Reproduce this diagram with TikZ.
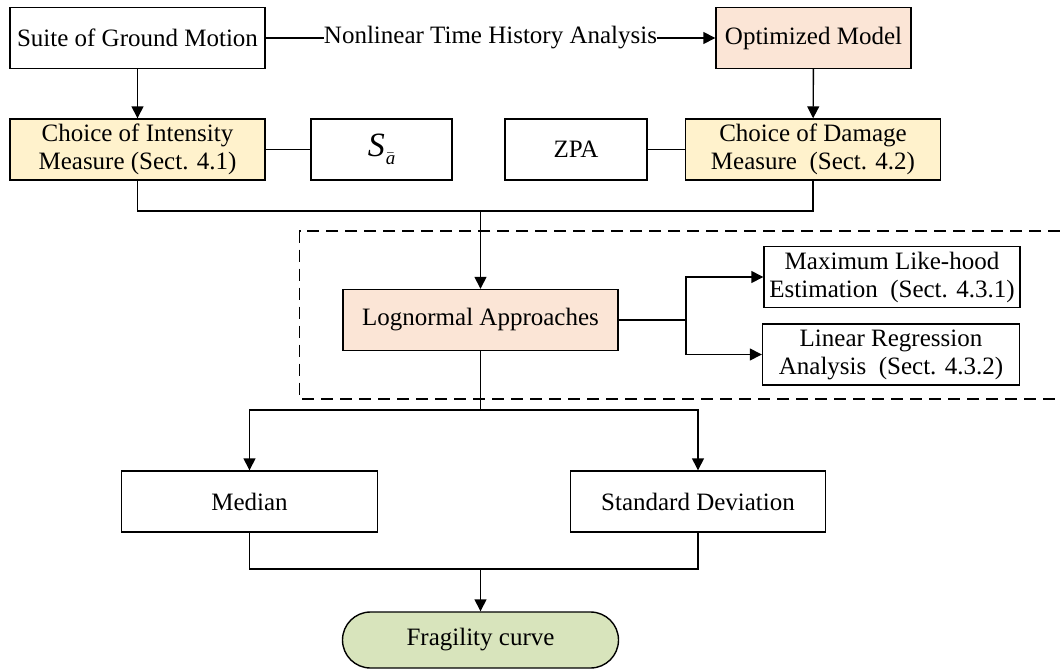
\documentclass[tikz,border=0pt]{standalone}
\usepackage{fontspec}
\setmainfont{Liberation Serif}
\usepackage{xcolor}
\usetikzlibrary{arrows.meta}

\definecolor{boxpink}{HTML}{FBE5D6}
\definecolor{boxyellow}{HTML}{FFF2CC}
\definecolor{boxgreen}{HTML}{D8E4BC}

\begin{document}
\begin{tikzpicture}[x=0.5pt, y=-0.5pt, font=\fontsize{12.5}{14}\selectfont, line width=0.7pt,
  box/.style={draw, inner sep=0pt, minimum height=30.5pt, align=center},
  arr/.style={-{Triangle[length=6pt,width=6pt]}}]
\useasboundingbox (0,0) rectangle (1060,669);

% top row
\node[box, minimum width=127.5pt] (suite) at (137.5,38) {Suite of Ground Motion};
\node[box, fill=boxpink, minimum width=97.5pt] (model) at (813.5,38) {Optimized Model};
\draw[arr] (suite) -- node[fill=white, inner sep=0pt] (nlth) {Nonlinear Time History Analysis} (model);

% measures
\node[box, fill=boxyellow, minimum width=127.5pt] (im) at (137.5,149.5) {Choice of Intensity\\Measure (Sect. 4.1)};
\node[box, minimum width=70.5pt] (sa) at (381.5,149.5) {\fontsize{17}{17}\selectfont\textit{S}\kern0.5pt\raisebox{-4pt}{\fontsize{9.5}{10}\selectfont\itshape $\bar{\mbox{a}}$}};
\node[box, minimum width=71pt] (zpa) at (576,149.5) {ZPA};
\node[box, fill=boxyellow, minimum width=127.5pt] (dm) at (813,149.5) {Choice of Damage\\Measure~~(Sect. 4.2)};
\draw[arr] (suite) -- (im);
\draw[arr] (model) -- (dm);
\draw (im) -- (sa);
\draw (zpa) -- (dm);

% lognormal approaches
\coordinate (top) at (480.5,211);
\node[box, fill=boxpink, minimum width=137.5pt] (logn) at (480.5,320) {Lognormal Approaches};
\node[box, minimum width=128pt] (mle) at (892,277) {Maximum Like-hood\\Estimation~~(Sect. 4.3.1)};
\node[box, minimum width=128.5pt] (lra) at (891,354.5) {Linear Regression\\Analysis~~(Sect. 4.3.2)};
\draw (im) |- (top) -| (dm);
\draw[arr] (top) -- (logn);
\coordinate (br) at (686,320);
\draw (logn) -- (br);
\draw[arr] (br) |- (mle);
\draw[arr] (br) |- (lra);
\draw[dash pattern=on 6pt off 3.5pt] (1060,231) -- (299.5,231) -- (299.5,399) -- (1060,399);

% parameters
\coordinate (split) at (480.5,410);
\node[box, minimum width=128pt] (median) at (249.5,501.5) {Median};
\node[box, minimum width=127.5pt] (sd) at (698,501.5) {Standard Deviation};
\draw (logn) -- (split);
\draw[arr] (split) -| (median);
\draw[arr] (split) -| (sd);

% result
\coordinate (join) at (480.5,569);
\node[box, fill=boxgreen, rounded corners=14pt, minimum width=138pt, minimum height=28pt] (frag) at (480.5,640) {Fragility curve};
\draw (median) |- (join) -| (sd);
\draw[arr] (join) -- (frag);
\end{tikzpicture}
\end{document}
